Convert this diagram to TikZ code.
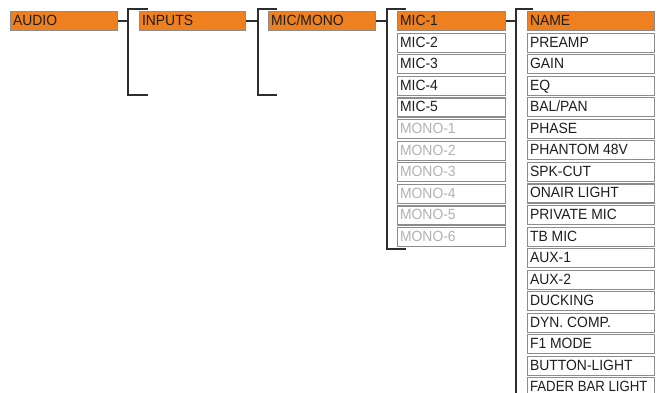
\documentclass[tikz,border=0pt]{standalone}
\usepackage{fontspec}
\usepackage{graphicx}
\setmainfont{Liberation Sans}[FakeStretch=0.94]
\definecolor{orng}{RGB}{238,128,32}
\definecolor{bord}{RGB}{140,140,140}
\definecolor{dim}{RGB}{178,178,178}
\definecolor{ink}{RGB}{30,30,30}
\definecolor{brk}{RGB}{45,45,45}
\tikzset{
  box/.style={draw=bord, line width=1.1pt, anchor=north west, minimum height=19pt,
    inner xsep=2.5pt, inner ysep=0pt, text height=11.5pt, text depth=2.5pt,
    font=\fontsize{14.8}{15}\selectfont, text=ink},
  hot/.style={box, fill=orng},
  cold/.style={box, fill=white},
  off/.style={cold, text=dim},
  brack/.style={draw=brk, line width=2.9pt, line cap=rect, line join=miter},
  link/.style={draw=brk, line width=2.6pt}
}
% \cell{name}{style}{x}{y}{width}{text}
\newcommand{\cell}[6]{\node[#2, minimum width=#5pt] (#1) at (#3,#4) {\makebox[\dimexpr #5pt-5pt\relax][l]{#6}};}
\begin{document}
\begin{tikzpicture}[x=1pt,y=-1pt]
\useasboundingbox (0,0) rectangle (658,392);
\clip (0,0) rectangle (658,392);
\fill[white] (0,0) rectangle (658,392);

% bracket coordinates
\coordinate (b1t) at (128,9);  \coordinate (b1te) at (147,9);
\coordinate (b1b) at (128,95); \coordinate (b1be) at (147,95);
\coordinate (b2t) at (258,9);  \coordinate (b2te) at (276,9);
\coordinate (b2b) at (258,95); \coordinate (b2be) at (276,95);
\coordinate (b3t) at (387,9);  \coordinate (b3te) at (405,9);
\coordinate (b3b) at (387,249);\coordinate (b3be) at (405,249);
\coordinate (b4t) at (516,9);  \coordinate (b4te) at (532,9);
\coordinate (b4b) at (516,400);

\draw[brack] (b1te) -- (b1t) -- (b1b) -- (b1be);
\draw[brack] (b2te) -- (b2t) -- (b2b) -- (b2be);
\draw[brack] (b3te) -- (b3t) -- (b3b) -- (b3be);
\draw[brack] (b4te) -- (b4t) -- (b4b);

% main chain
\cell{audio}{hot}{10}{11}{107}{AUDIO}
\cell{inputs}{hot}{139}{11}{106}{INPUTS}
\cell{micmono}{hot}{268}{11}{107}{MIC/MONO}

% MIC column
\cell{m1}{hot}{397}{11}{108}{MIC-1}
\cell{m2}{cold}{397}{32.6}{108}{MIC-2}
\cell{m3}{cold}{397}{54.2}{108}{MIC-3}
\cell{m4}{cold}{397}{75.8}{108}{MIC-4}
\cell{m5}{cold}{397}{97.4}{108}{MIC-5}
\cell{m6}{off}{397}{119}{108}{MONO-1}
\cell{m7}{off}{397}{140.6}{108}{MONO-2}
\cell{m8}{off}{397}{162.2}{108}{MONO-3}
\cell{m9}{off}{397}{183.8}{108}{MONO-4}
\cell{m10}{off}{397}{205.4}{108}{MONO-5}
\cell{m11}{off}{397}{227}{108}{MONO-6}

% parameter column
\cell{r1}{hot}{527}{11}{127}{NAME}
\cell{r2}{cold}{527}{32.6}{127}{PREAMP}
\cell{r3}{cold}{527}{54.1}{127}{GAIN}
\cell{r4}{cold}{527}{75.7}{127}{EQ}
\cell{r5}{cold}{527}{97.2}{127}{BAL/PAN}
\cell{r6}{cold}{527}{118.8}{127}{PHASE}
\cell{r7}{cold}{527}{140.3}{127}{PHANTOM 48V}
\cell{r8}{cold}{527}{161.9}{127}{SPK-CUT}
\cell{r9}{cold}{527}{183.4}{127}{ONAIR LIGHT}
\cell{r10}{cold}{527}{205}{127}{PRIVATE MIC}
\cell{r11}{cold}{527}{226.5}{127}{TB MIC}
\cell{r12}{cold}{527}{248.1}{127}{AUX-1}
\cell{r13}{cold}{527}{269.6}{127}{AUX-2}
\cell{r14}{cold}{527}{291.2}{127}{DUCKING}
\cell{r15}{cold}{527}{312.7}{127}{DYN. COMP.}
\cell{r16}{cold}{527}{334.3}{127}{F1 MODE}
\cell{r17}{cold}{527}{355.8}{127}{BUTTON-LIGHT}
\cell{r18}{cold}{527}{377.2}{127}{\scalebox{0.95}[1]{FADER BAR LIGHT}}

% connectors
\draw[link] (audio.east) -- (audio.east -| b1t);
\draw[link] (inputs.east) -- (inputs.east -| b2t);
\draw[link] (micmono.east) -- (micmono.east -| b3t);
\draw[link] (m1.east) -- (m1.east -| b4t);
\end{tikzpicture}
\end{document}
